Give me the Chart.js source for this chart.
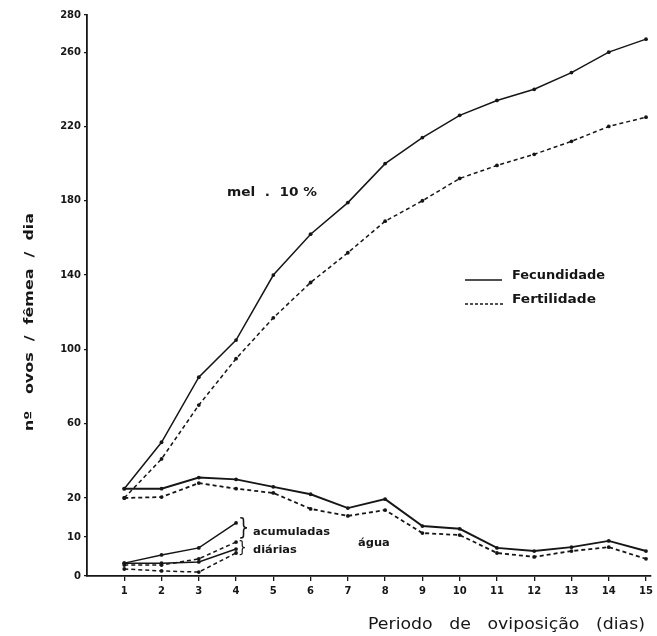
<!DOCTYPE html>
<html lang="pt">
<head>
<meta charset="utf-8">
<title>Fecundidade e fertilidade</title>
<script src="https://cdn.jsdelivr.net/npm/chart.js@4/dist/chart.umd.min.js"></script>
<style>
  html, body { margin: 0; padding: 0; background: #fff; }
  canvas { display: block; }
</style>
</head>
<body>
<canvas id="chart" width="657" height="636"></canvas>
<script>
// --- dados ---
const DAYS = [1, 2, 3, 4, 5, 6, 7, 8, 9, 10, 11, 12, 13, 14, 15];
const X_TICKS = [1, 2, 3, 4, 5, 6, 7, 8, 9, 10, 11, 12, 13, 14, 15];
const Y_TICKS = [0, 10, 20, 60, 100, 140, 180, 220, 260, 280];

// mel 10%
const MEL_FEC = [25, 50, 85, 105, 140, 162, 179, 200, 214, 226, 234, 240, 249, 260, 267];
const MEL_FERT = [20, 41, 70, 95, 117, 136, 152, 169, 180, 192, 199, 205, 212, 220, 225];

// água
const AGUA_FEC = [25, 25, 31, 30, 26, 22, 17.4, 19.7, 12.8, 12.1, 7.2, 6.4, 7.4, 9, 6.4];
const AGUA_FERT = [20, 20.5, 28, 25, 22.7, 17.2, 15.4, 16.9, 11, 10.5, 5.9, 4.9, 6.4, 7.4, 4.4];

// série curta (dias 1-4): acumuladas e diárias
const SHORT_DAYS = [1, 2, 3, 4];
const ACUM_FEC = [3.3, 5.4, 7.2, 13.6];
const ACUM_FERT = [2.8, 2.8, 4.4, 8.7];
const DIAR_FEC = [3.3, 3.3, 3.6, 6.9];
const DIAR_FERT = [1.8, 1.3, 1.0, 5.9];

const INK = '#161616';
const FONT = '"DejaVu Sans", sans-serif';

// eixo y quebrado: o trecho 0-20 é esticado
const BREAK = 20;
const LOW_STRETCH = 2.1;

class BrokenScale extends Chart.LinearScale {
    getPixelForValue(value) {
        if (value === null || value === undefined) return NaN;
        const t = value <= BREAK ? value * LOW_STRETCH : BREAK * LOW_STRETCH + (value - BREAK);
        const tMax = BREAK * LOW_STRETCH + (this.max - BREAK);
        return this.getPixelForDecimal(t / tMax);
    }
}
BrokenScale.id = 'broken';
BrokenScale.defaults = Chart.LinearScale.defaults;
Chart.register(BrokenScale);

function points(xs, ys) {
    return xs.map((x, i) => ({ x: x, y: ys[i] }));
}

function series(label, xs, ys, dashed, width) {
    return {
        label: label,
        data: points(xs, ys),
        borderColor: INK,
        backgroundColor: INK,
        borderWidth: width,
        borderDash: dashed ? [4, 3] : [],
        pointRadius: 1.9,
        pointBorderWidth: 0,
        pointBackgroundColor: INK,
        tension: 0,
        fill: false
    };
}

// texto ajustado a uma largura dada
function fitText(ctx, text, x, y, width) {
    const w = ctx.measureText(text).width;
    ctx.save();
    ctx.translate(x, y);
    ctx.scale(width / w, 1);
    ctx.fillText(text, 0, 0);
    ctx.restore();
}

const annotations = {
    id: 'annotations',
    afterDraw(chart) {
        const ctx = chart.ctx;
        ctx.save();
        ctx.fillStyle = INK;
        ctx.strokeStyle = INK;
        ctx.textAlign = 'left';
        ctx.textBaseline = 'middle';

        // título do eixo y
        ctx.font = 'bold 12px ' + FONT;
        ctx.save();
        ctx.translate(30, 431);
        ctx.rotate(-Math.PI / 2);
        fitText(ctx, 'nº   ovos  /  fêmea  /  dia', 0, 0, 218);
        ctx.restore();

        // título do eixo x
        ctx.font = '15px ' + FONT;
        fitText(ctx, 'Periodo   de   oviposição   (dias)', 368, 625, 277);

        // mel 10%
        ctx.font = 'bold 12px ' + FONT;
        fitText(ctx, 'mel  .  10 %', 227, 193, 90);

        // legenda
        ctx.lineWidth = 1.5;
        ctx.beginPath();
        ctx.moveTo(465, 280);
        ctx.lineTo(502, 280);
        ctx.stroke();
        ctx.setLineDash([3, 2]);
        ctx.beginPath();
        ctx.moveTo(465, 304);
        ctx.lineTo(503, 304);
        ctx.stroke();
        ctx.setLineDash([]);
        ctx.font = 'bold 12px ' + FONT;
        fitText(ctx, 'Fecundidade', 512, 276, 93);
        fitText(ctx, 'Fertilidade', 512, 300, 84);

        // chaves
        ctx.font = '22px ' + FONT;
        ctx.save();
        ctx.translate(238, 529);
        ctx.scale(0.8, 1.05);
        ctx.fillText('}', 0, 0);
        ctx.restore();
        ctx.font = '15px ' + FONT;
        ctx.save();
        ctx.translate(238, 548);
        ctx.scale(0.9, 1);
        ctx.fillText('}', 0, 0);
        ctx.restore();

        // acumuladas / diárias / água com a mesma largura de letra
        ctx.font = 'bold 10px ' + FONT;
        const k = 77 / ctx.measureText('acumuladas').width;
        [['acumuladas', 253, 532], ['diárias', 253, 550], ['água', 358, 543]].forEach(([t, x, y]) => {
            ctx.save();
            ctx.translate(x, y);
            ctx.scale(k, 1);
            ctx.fillText(t, 0, 0);
            ctx.restore();
        });

        ctx.restore();
    }
};

const tickFont = { family: FONT, size: 10, weight: 'bold' };

new Chart(document.getElementById('chart'), {
    type: 'line',
    data: {
        datasets: [
            series('mel 10% - Fecundidade', DAYS, MEL_FEC, false, 1.5),
            series('mel 10% - Fertilidade', DAYS, MEL_FERT, true, 1.5),
            series('água - Fecundidade', DAYS, AGUA_FEC, false, 1.9),
            series('água - Fertilidade', DAYS, AGUA_FERT, true, 1.8),
            series('acumuladas - Fecundidade', SHORT_DAYS, ACUM_FEC, false, 1.5),
            series('acumuladas - Fertilidade', SHORT_DAYS, ACUM_FERT, true, 1.5),
            series('diárias - Fecundidade', SHORT_DAYS, DIAR_FEC, false, 1.5),
            series('diárias - Fertilidade', SHORT_DAYS, DIAR_FERT, true, 1.5)
        ]
    },
    options: {
        responsive: false,
        animation: false,
        events: [],
        layout: { padding: { top: 15, right: 2, left: 0, bottom: 0 } },
        plugins: {
            legend: { display: false },
            tooltip: { enabled: false }
        },
        scales: {
            x: {
                type: 'linear',
                min: 0,
                max: 15.13,
                afterBuildTicks: (axis) => { axis.ticks = X_TICKS.map(v => ({ value: v })); },
                afterFit: (axis) => { axis.height = 60; },
                ticks: { font: tickFont, color: INK, padding: 4, autoSkip: false, maxRotation: 0 },
                grid: { drawOnChartArea: false, drawTicks: true, tickLength: 5, color: INK, lineWidth: 1.3 },
                border: { display: true, color: INK, width: 1.8 }
            },
            y: {
                type: 'broken',
                min: 0,
                max: 280,
                afterBuildTicks: (axis) => { axis.ticks = Y_TICKS.map(v => ({ value: v })); },
                afterFit: (axis) => { axis.width = 87; },
                ticks: { font: tickFont, color: INK, padding: 3, autoSkip: false },
                grid: { drawOnChartArea: false, drawTicks: true, tickLength: 3, color: INK, lineWidth: 1.3 },
                border: { display: true, color: INK, width: 1.8 }
            }
        }
    },
    plugins: [annotations]
});
</script>
</body>
</html>
